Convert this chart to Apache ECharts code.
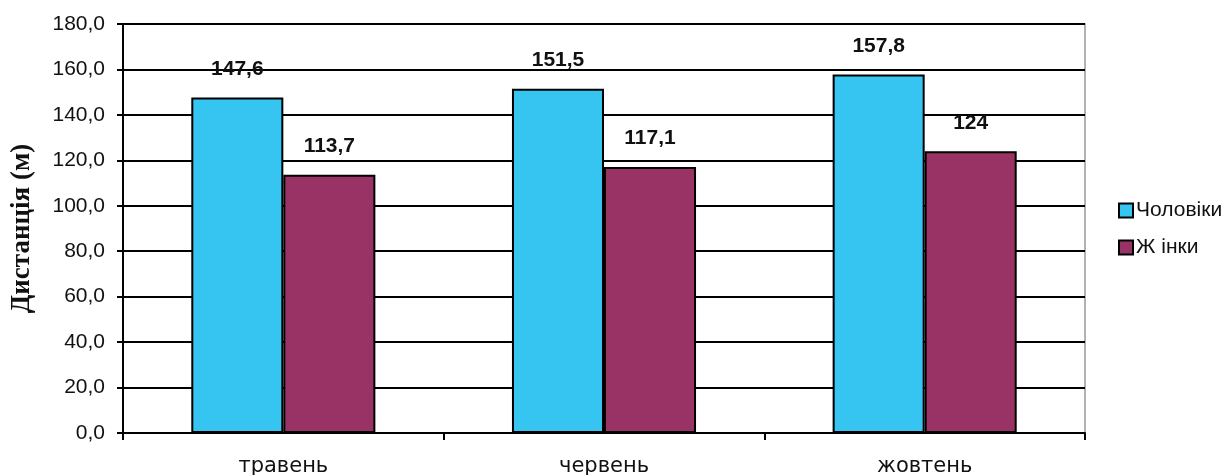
<!DOCTYPE html>
<html>
<head>
<meta charset="utf-8">
<script src="https://cdn.jsdelivr.net/npm/echarts@6/dist/echarts.min.js"></script>
<style>html,body{margin:0;padding:0;background:#fff;}#c{width:1230px;height:475px;}</style>
</head>
<body>
<div id="c"></div>
<script>
const categories = ['травень', 'червень', 'жовтень'];
const seriesNames = ['Чоловіки', 'Ж інки'];
const menValues = [147.6, 151.5, 157.8];
const womenValues = [113.7, 117.1, 124];
const yTicks = [0, 20, 40, 60, 80, 100, 120, 140, 160, 180];
const yTitle = 'Дистанція (м)';

const fmt = v => Number.isInteger(v) ? String(v) : v.toFixed(1).replace('.', ',');
const chart = echarts.init(document.getElementById('c'));
const labelCfg = {
  show: true, position: 'top', distance: 18,
  fontFamily: 'Liberation Sans, Arial', fontWeight: 'bold', fontSize: 21, color: '#111',
  formatter: p => fmt(p.value)
};
chart.setOption({
  animation: false,
  backgroundColor: '#fff',
  grid: { left: 123, right: 145, top: 24, bottom: 42, containLabel: false, outerBoundsMode: 'none',
    show: true, borderColor: '#999', borderWidth: 1.5, backgroundColor: '#fff' },
  legend: {
    orient: 'vertical', left: 1113, top: 195, itemWidth: 14, itemHeight: 14, itemGap: 16,
    icon: 'rect',
    textStyle: { fontFamily: 'Liberation Sans, Arial', fontSize: 21, color: '#111', padding: [0, 0, 0, -2] },
    data: seriesNames
  },
  xAxis: {
    type: 'category', data: categories,
    axisLine: { lineStyle: { color: '#000', width: 2 } },
    axisTick: { show: true, length: 7, lineStyle: { color: '#000', width: 2 } },
    axisLabel: { fontFamily: 'DejaVu Sans, Liberation Sans', fontSize: 21, color: '#111', margin: 23 }
  },
  yAxis: {
    type: 'value', min: yTicks[0], max: yTicks[yTicks.length - 1], interval: 20,
    name: yTitle, nameLocation: 'middle', nameGap: 87,
    nameTextStyle: { fontFamily: 'Liberation Serif, Times New Roman', fontWeight: 'bold', fontSize: 27, color: '#111' },
    axisLine: { show: true, lineStyle: { color: '#000', width: 2 } },
    axisTick: { show: true, length: 6, lineStyle: { color: '#000', width: 2 } },
    axisLabel: { fontFamily: 'Liberation Sans, Arial', fontSize: 21, color: '#111', margin: 18, formatter: v => v.toFixed(1).replace('.', ',') },
    splitLine: { show: true, lineStyle: { color: '#000', width: 2 } }
  },
  series: [
    { name: seriesNames[0], type: 'bar', data: menValues, barGap: '0%', barCategoryGap: '42.6%',
      itemStyle: { color: '#35C5F0', borderColor: '#000', borderWidth: 2 }, label: labelCfg },
    { name: seriesNames[1], type: 'bar', data: womenValues,
      itemStyle: { color: '#993366', borderColor: '#000', borderWidth: 2 }, label: labelCfg }
  ]
});
</script>
</body>
</html>
